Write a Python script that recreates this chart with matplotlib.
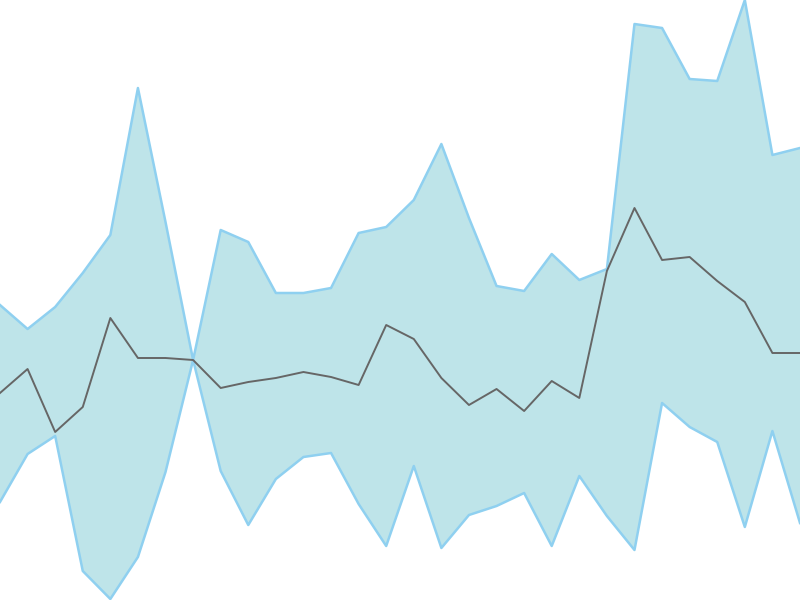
import numpy as np
import matplotlib
matplotlib.use("Agg")
import matplotlib.pyplot as plt

# values (pixel rows from the top, 600 px tall)
upper_px = [305, 329, 307, 273, 235, 88, 222, 360, 230, 242, 293, 293, 288, 233, 227,
            200, 144, 218, 286, 291, 254, 280, 269, 24, 28, 79, 81, 0, 155, 148]
middle_px = [393, 369, 432, 407, 318, 358, 358, 360, 388, 382, 378, 372, 377, 385, 325,
             339, 378, 405, 389, 411, 381, 398, 271, 208, 260, 257, 281, 302, 353, 353]
lower_px = [502, 454, 436, 571, 599, 557, 472, 360, 471, 525, 479, 457, 453, 504, 546,
            466, 548, 515, 506, 493, 546, 476, 516, 550, 403, 427, 442, 527, 431, 523]

upper = 600 - np.array(upper_px)
middle = 600 - np.array(middle_px)
lower = 600 - np.array(lower_px)
x = np.arange(len(upper))

fig = plt.figure(figsize=(8, 6), dpi=100)
ax = fig.add_axes([0, 0, 1, 1])

ax.fill_between(x, lower, upper, color="#bee4e9", linewidth=0)
ax.plot(x, upper, c="#8fd0f0", linewidth=1.8)
ax.plot(x, lower, c="#8fd0f0", linewidth=1.8)
ax.plot(x, middle, c="#666666", linewidth=1.4)

ax.set_xlim(0, len(x) - 1)
ax.set_ylim(0, 600)
ax.axis("off")

fig.savefig("out.png", dpi=100)
